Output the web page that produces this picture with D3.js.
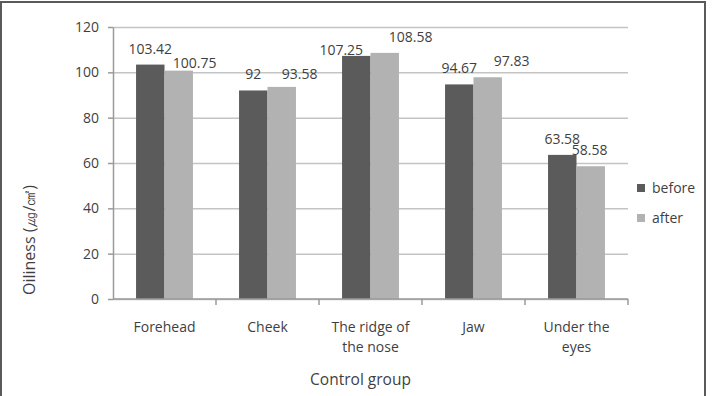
<!DOCTYPE html>
<html>
<head>
<meta charset="utf-8">
<script src="https://cdn.jsdelivr.net/npm/d3@7"></script>
<style>
  body { margin: 0; background: #fff; }
  text { font-family: "Open Sans", sans-serif; fill: #3f3f3f; }
</style>
</head>
<body>
<div id="chart-area"></div>
<script>
// values
var categories = ["Forehead", "Cheek", "The ridge of|the nose", "Jaw", "Under the|eyes"]
var seriesNames = ["before", "after"]
var beforeValues = [103.42, 92, 107.25, 94.67, 63.58]
var afterValues = [100.75, 93.58, 108.58, 97.83, 58.58]
var yTicks = [0, 20, 40, 60, 80, 100, 120]

var colors = { before: "#5b5b5b", after: "#b2b2b2" }

var margin = { left: 113, right: 85, top: 27, bottom: 97 }
var width = 713 - margin.left - margin.right,
    height = 396 - margin.top - margin.bottom

var svg = d3.select("#chart-area").append("svg")
    .attr("width", 713)
    .attr("height", 396)

// outer frame
svg.append("rect")
  .attr("x", 1).attr("y", 2)
  .attr("width", 704).attr("height", 420)
  .attr("fill", "none")
  .attr("stroke", "#5a5a5a")
  .attr("stroke-width", 2)

var g = svg.append("g")
    .attr("transform", "translate(" + margin.left + "," + margin.top + ")")

var x = d3.scaleBand()
  .domain(categories)
  .range([0, width])
  .paddingInner(0)
  .paddingOuter(0)

var x1 = d3.scaleBand()
  .domain(seriesNames)
  .range([0, x.bandwidth()])
  .paddingInner(0)
  .paddingOuter(0.81)

var y = d3.scaleLinear()
  .domain([0, 120])
  .range([height, 0])

// gridlines
g.append("g")
  .attr("class", "grid")
  .call(d3.axisLeft(y).tickValues(yTicks).tickSize(-width).tickFormat(""))
  .call(function(sel) {
    sel.select(".domain").remove()
    sel.selectAll("line").attr("stroke", "#c4c4c4").attr("stroke-width", 1.5)
  })

// y axis
var yAxisGroup = g.append("g")
  .call(d3.axisLeft(y).tickValues(yTicks).tickSize(5).tickPadding(9).tickSizeOuter(0))
yAxisGroup.select(".domain").attr("stroke", "#9a9a9a").attr("stroke-width", 1.5)
yAxisGroup.selectAll("line").attr("stroke", "#9a9a9a").attr("stroke-width", 1.5)
yAxisGroup.selectAll("text")
  .style("font-family", '"Open Sans", sans-serif')
  .attr("font-size", "14px")
  .attr("fill", "#3f3f3f")

// bars
var rows = categories.map(function(c, i) {
  return { cat: c, values: [
    { key: "before", value: beforeValues[i] },
    { key: "after", value: afterValues[i] }
  ] }
})

var groups = g.selectAll(".cat")
  .data(rows)
  .enter().append("g")
    .attr("class", "cat")
    .attr("transform", function(d) { return "translate(" + x(d.cat) + ",0)" })

groups.selectAll("rect")
  .data(function(d) { return d.values })
  .enter().append("rect")
    .attr("x", function(d) { return x1(d.key) })
    .attr("width", x1.bandwidth())
    .attr("y", function(d) { return y(d.value) })
    .attr("height", function(d) { return height - y(d.value) })
    .attr("fill", function(d) { return colors[d.key] })

// x axis on top of bars
var xAxisGroup = g.append("g")
  .attr("transform", "translate(0," + height + ")")
xAxisGroup.append("line")
  .attr("x1", 0).attr("x2", width)
  .attr("stroke", "#9a9a9a").attr("stroke-width", 1.5)
xAxisGroup.selectAll(".tick")
  .data(categories.map(function(c) { return x(c) + x.bandwidth() }))
  .enter().append("line")
    .attr("x1", function(d) { return d }).attr("x2", function(d) { return d })
    .attr("y1", 0).attr("y2", 6)
    .attr("stroke", "#9a9a9a").attr("stroke-width", 1.5)

xAxisGroup.selectAll(".xlabel")
  .data(categories)
  .enter().append("text")
    .attr("class", "xlabel")
    .attr("text-anchor", "middle")
    .attr("font-size", "14px")
    .attr("x", function(d) { return x(d) + x.bandwidth() / 2 })
    .attr("y", 33)
    .each(function(d) {
      var parts = d.split("|")
      var t = d3.select(this)
      parts.forEach(function(p, i) {
        t.append("tspan")
          .attr("x", x(d) + x.bandwidth() / 2)
          .attr("dy", i === 0 ? 0 : 20)
          .text(p)
      })
    })

// data labels (small nudges where the original labels were moved by hand)
var labelNudge = {
  before: [[0, 0], [0, 0], [-15, 10], [0, 0], [0, 0]],
  after: [[16, 8], [18, 3], [26, 0], [24, 0], [-1, 0]]
}
groups.each(function(row, i) {
  d3.select(this).selectAll(".lbl")
    .data(row.values)
    .enter().append("text")
      .attr("class", "lbl")
      .attr("text-anchor", "middle")
      .attr("font-size", "14px")
      .attr("x", function(d) { return x1(d.key) + x1.bandwidth() / 2 + labelNudge[d.key][i][0] })
      .attr("y", function(d) { return y(d.value) - 11 + labelNudge[d.key][i][1] })
      .text(function(d) { return d.value })
})

// axis titles
g.append("text")
  .attr("x", width / 2 - 10)
  .attr("y", height + 86)
  .attr("text-anchor", "middle")
  .attr("font-size", "15.5px")
  .text("Control group")

g.append("text")
  .attr("transform", "rotate(-90)")
  .attr("x", -(height - 59))
  .attr("y", -78)
  .attr("text-anchor", "middle")
  .attr("font-size", "16px")
  .text("Oiliness (㎍/㎠)")

// legend
var legend = svg.append("g")
  .attr("transform", "translate(637,184)")
var li = legend.selectAll(".li")
  .data(seriesNames)
  .enter().append("g")
    .attr("transform", function(d, i) { return "translate(0," + i * 30 + ")" })
li.append("rect")
  .attr("width", 8).attr("height", 8)
  .attr("fill", function(d) { return colors[d] })
li.append("text")
  .attr("x", 15).attr("y", 8.5)
  .attr("font-size", "14px")
  .text(function(d) { return d })
</script>
</body>
</html>
